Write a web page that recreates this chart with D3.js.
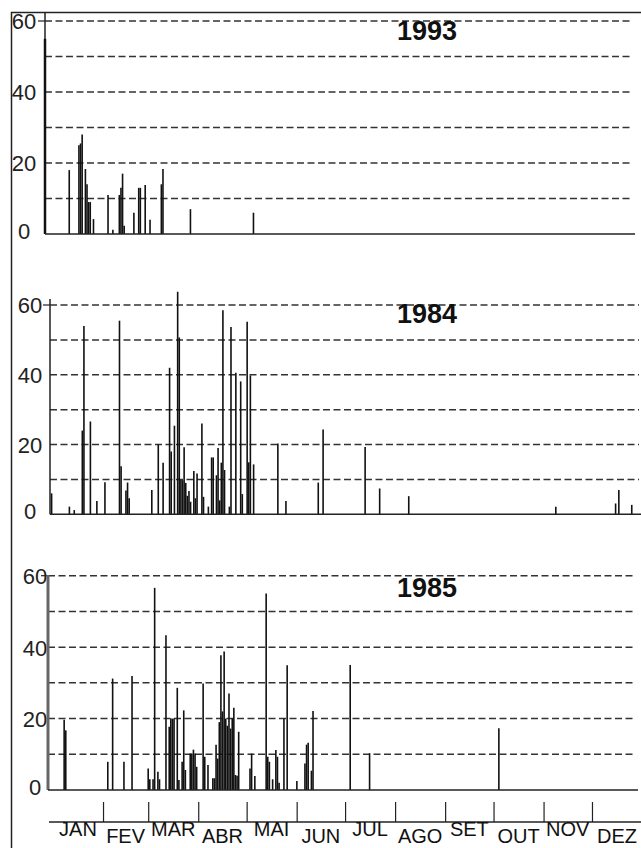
<!DOCTYPE html>
<html>
<head>
<meta charset="utf-8">
<script src="https://cdn.jsdelivr.net/npm/d3@7"></script>
<style>
  body { margin: 0; background: #fff; }
  svg { display: block; font-family: 'Liberation Sans', Arial, sans-serif; }
</style>
</head>
<body>
<div id="chart"></div>
<script>
// daily rainfall (mm) as [day of year, value]
const rain1993 = [[0,55],[15,18],[21,25],[22,25.5],[23,28],[25,18.3],[26,14],[27,9],[28,9],[30,4.2],
  [39,11],[42,1.2],[46,11],[47,13],[48,17],[49,2.3],[55,6],[58,13],[59,13],[62,13.8],[65,4],
  [72,14],[73,18.3],[90,7],[129,6]]

const rain1984 = [[1,6],[12,2.2],[15,1.2],[20,24],[21,54],[25,26.6],[29,3.8],[34,9.2],[43,55.5],[44,13.8],
  [47,6.8],[48,9.1],[49,4.6],[63,7],[67,20],[70,14.8],[74,42],[75,18],[77,25.4],[79,63.8],[80,50.7],
  [81,9.8],[82,9.8],[83,19.2],[84,9],[85,5.3],[86,6.7],[87,3.6],[89,12.4],[90,4.6],[91,11.7],[94,26],
  [95,5],[98,2.2],[100,16.3],[101,16.3],[103,11.2],[104,19],[105,4],[106,14.8],[107,58.5],[108,12.7],
  [111,2.2],[112,53.7],[115,40.6],[118,38.1],[119,5.8],[122,55.2],[123,14.9],[124,39.8],[126,14.3],
  [141,20.3],[146,3.8],[166,9.1],[169,24.3],[195,19.3],[204,7.4],[222,5.2],[313,2.2],[350,3.1],
  [352,7],[360,2.7]]

const rain1985 = [[10,19.7],[11,16.7],[37,7.9],[40,31.2],[47,7.9],[52,31.9],[62,6],[63,3],[65,3],[66,56.6],
  [68,5.1],[69,3],[73,43.3],[75,17.7],[76,20],[77,20],[78,20],[80,28.6],[81,2.8],[83,7.9],[84,22.3],
  [85,5.6],[88,10.2],[89,10.2],[90,11.3],[91,10.2],[92,6.5],[96,29.8],[97,9.3],[99,7],[102,3.3],
  [103,3.3],[104,12.7],[105,8.8],[106,19],[107,37.7],[108,22],[109,38.8],[110,20],[111,18],[112,27],
  [113,17.2],[114,20],[115,23],[116,4.2],[117,4],[118,16.3],[125,6],[126,10.2],[128,3.9],[135,55],
  [136,9.3],[137,7.9],[139,3],[141,11.2],[142,9.3],[143,2],[146,20],[148,34.9],[154,2.5],[159,7.4],
  [160,12.7],[161,13.2],[163,5.4],[164,22.1],[187,35],[199,10.3],[279,17.3]]

const years = ['1993', '1984', '1985']
const months = ['JAN','FEV','MAR','ABR','MAI','JUN','JUL','AGO','SET','OUT','NOV','DEZ']
const yLabels = [0, 20, 40, 60]
const gridValues = [10, 20, 30, 40, 50, 60]

const width = 641, height = 848
const svg = d3.select('#chart').append('svg')
  .attr('width', width)
  .attr('height', height)

// outer frame (left and top only, rest is cropped)
svg.append('path')
  .attr('d', 'M11.5,848 V12.5 H641')
  .attr('fill', 'none')
  .attr('stroke', '#222')
  .attr('stroke-width', 1.5)

const panels = [
  {data: rain1993, left: 45, right: 635, zero: 234, top: 21, axisTop: 13, labelX: 24, axisW: 1.5, axisC: '#222', titleY: 40},
  {data: rain1984, left: 50, right: 641, zero: 514.3, top: 305, axisTop: 299, labelX: 30, axisW: 1.5, axisC: '#222', titleY: 323},
  {data: rain1985, left: 48, right: 638, zero: 790, top: 575.7, axisTop: 575, labelX: 35, axisW: 3, axisC: '#666', titleY: 597}
]

panels.forEach((p, i) => {
  const g = svg.append('g')
  const x = d3.scaleLinear().domain([0, 365]).range([p.left, p.left + 365 * 1.616])
  const y = d3.scaleLinear().domain([0, 60]).range([p.zero, p.top])

  // dashed grid
  g.selectAll('line.grid')
    .data(gridValues)
    .enter()
    .append('line')
    .attr('class', 'grid')
    .attr('x1', p.left)
    .attr('x2', p.right - 2)
    .attr('y1', d => y(d))
    .attr('y2', d => y(d))
    .attr('stroke', '#333')
    .attr('stroke-width', 1.5)
    .attr('stroke-dasharray', '7,3.5')

  // y axis with centered labels
  const yAxis = d3.axisLeft(y).tickValues(yLabels).tickSize(0).tickPadding(0)
  const ax = g.append('g')
    .attr('transform', `translate(${p.left},0)`)
    .call(yAxis)
  ax.select('.domain').remove()
  ax.selectAll('text')
    .attr('x', p.labelX - p.left)
    .attr('text-anchor', 'middle')
    .attr('dy', d => d === 0 ? '0.2em' : '0.36em')
    .style('font-size', '22px')
    .style('font-family', "'Liberation Sans', Arial, sans-serif")
    .attr('fill', '#222')

  g.append('line')
    .attr('x1', p.left - 7).attr('x2', p.left)
    .attr('y1', y(60)).attr('y2', y(60))
    .attr('stroke', '#222').attr('stroke-width', 1.2)

  g.append('line')
    .attr('x1', p.left).attr('x2', p.left)
    .attr('y1', p.axisTop).attr('y2', p.zero)
    .attr('stroke', p.axisC).attr('stroke-width', p.axisW)

  // bars
  g.selectAll('line.bar')
    .data(p.data)
    .enter()
    .append('line')
    .attr('class', 'bar')
    .attr('x1', d => x(d[0]))
    .attr('x2', d => x(d[0]))
    .attr('y1', y(0))
    .attr('y2', d => y(d[1]))
    .attr('stroke', '#111')
    .attr('stroke-width', d => d[0] === 0 ? 2.5 : 1.6)

  g.append('line')
    .attr('x1', p.left).attr('x2', p.right)
    .attr('y1', p.zero).attr('y2', p.zero)
    .attr('stroke', '#222').attr('stroke-width', 1.5)

  g.append('text')
    .text(years[i])
    .attr('x', 427)
    .attr('y', p.titleY)
    .attr('text-anchor', 'middle')
    .style('font-size', '27px')
    .style('font-weight', 'bold')
    .attr('fill', '#111')
})

// month axis
const monthScale = d3.scaleTime()
  .domain([new Date(1985, 0, 1), new Date(1986, 0, 1)])
  .range([53, 642])

const mAxis = d3.axisTop(monthScale)
  .tickValues(d3.timeMonth.range(new Date(1985, 1, 1), new Date(1985, 11, 2)))
  .tickSize(20)
  .tickSizeOuter(0)
  .tickFormat('')

const mg = svg.append('g')
  .attr('transform', 'translate(0,822)')
  .call(mAxis)
mg.select('.domain').remove()
mg.selectAll('line').attr('stroke', '#222').attr('stroke-width', 1.2)

mg.append('line')
  .attr('x1', 49).attr('x2', 641)
  .attr('y1', 0).attr('y2', 0)
  .attr('stroke', '#222').attr('stroke-width', 1.5)

const monthStarts = d3.timeMonth.range(new Date(1985, 0, 1), new Date(1986, 0, 1))
svg.append('g')
  .selectAll('text')
  .data(months)
  .enter()
  .append('text')
  .text(d => d)
  .attr('x', (d, i) => {
    const a = monthScale(monthStarts[i])
    const b = monthScale(d3.timeMonth.offset(monthStarts[i], 1))
    return (a + b) / 2
  })
  .attr('y', (d, i) => i % 2 === 0 ? 836 : 843)
  .attr('text-anchor', 'middle')
  .style('font-size', '20px')
  .style('font-family', "'Liberation Sans Narrow', 'Liberation Sans', Arial, sans-serif")
  .attr('fill', '#111')
</script>
</body>
</html>
